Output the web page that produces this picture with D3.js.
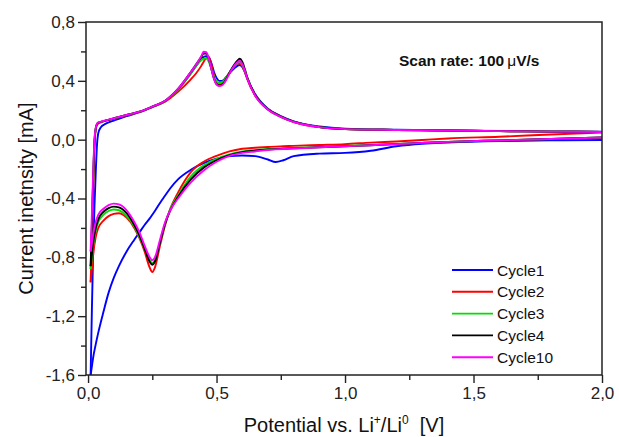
<!DOCTYPE html>
<html><head><meta charset="utf-8">
<script src="https://cdn.jsdelivr.net/npm/d3@7/dist/d3.min.js"></script>
<style>body{margin:0;background:#fff} svg{display:block;font-family:"Liberation Sans",Arial,sans-serif}</style>
</head><body><svg id="c" width="619" height="437"></svg>
<script>
// Potential grids (V)
const anodicV = [0.01,0.015,0.02,0.025,0.03,0.035,0.04,0.05,0.06,0.08,0.1,0.15,0.2,0.25,0.3,0.35,0.4,0.42,0.44,0.45,0.46,0.47,0.48,0.49,0.5,0.51,0.52,0.53,0.54,0.56,0.58,0.59,0.6,0.61,0.62,0.65,0.7,0.75,0.8,0.9,1.0,1.2,1.4,1.6,1.8,2.0];
const cathodicV = [0.01,0.015,0.02,0.03,0.04,0.06,0.08,0.1,0.12,0.15,0.18,0.2,0.22,0.24,0.25,0.26,0.28,0.3,0.32,0.35,0.4,0.45,0.5,0.55,0.6,0.65,0.7,0.73,0.76,0.8,0.9,1.0,1.1,1.2,1.3,1.4,1.6,1.8,2.0];

// Currents (mA), anodic sweep
const cycle1Anodic = [-1.6,-1.15,-0.75,-0.45,-0.22,-0.03,0.045,0.085,0.1,0.118,0.13,0.16,0.187,0.222,0.262,0.34,0.45,0.5,0.545,0.562,0.568,0.56,0.52,0.46,0.42,0.4,0.4,0.41,0.43,0.47,0.5,0.508,0.495,0.46,0.415,0.31,0.21,0.16,0.125,0.09,0.075,0.068,0.063,0.059,0.056,0.054];
const cycle2Anodic = [-0.97,-0.7,-0.35,-0.05,0.07,0.1,0.11,0.118,0.124,0.134,0.143,0.166,0.188,0.222,0.258,0.325,0.41,0.45,0.5,0.53,0.555,0.56,0.51,0.44,0.39,0.375,0.38,0.4,0.43,0.48,0.515,0.52,0.5,0.46,0.41,0.3,0.205,0.155,0.12,0.085,0.072,0.066,0.062,0.058,0.055,0.052];
const cycle3Anodic = [-0.88,-0.6,-0.28,-0.02,0.075,0.105,0.115,0.12,0.126,0.135,0.144,0.167,0.19,0.224,0.263,0.34,0.45,0.5,0.54,0.55,0.552,0.53,0.48,0.43,0.395,0.385,0.39,0.405,0.43,0.48,0.52,0.528,0.51,0.47,0.42,0.305,0.207,0.157,0.122,0.086,0.072,0.066,0.062,0.058,0.055,0.052];
const cycle4Anodic = [-0.86,-0.58,-0.26,-0.01,0.078,0.106,0.116,0.121,0.126,0.135,0.145,0.168,0.19,0.225,0.265,0.345,0.46,0.51,0.56,0.585,0.585,0.55,0.48,0.415,0.378,0.368,0.372,0.39,0.42,0.485,0.535,0.55,0.53,0.48,0.42,0.305,0.207,0.157,0.122,0.086,0.072,0.066,0.062,0.058,0.055,0.052];
const cycle10Anodic = [-0.76,-0.5,-0.22,0.0,0.08,0.108,0.117,0.122,0.127,0.136,0.145,0.168,0.19,0.225,0.265,0.345,0.46,0.51,0.565,0.598,0.595,0.55,0.48,0.415,0.375,0.365,0.368,0.385,0.415,0.48,0.525,0.535,0.515,0.47,0.415,0.3,0.205,0.155,0.12,0.085,0.072,0.066,0.062,0.058,0.055,0.052];

// Currents (mA), cathodic sweep (listed on ascending potential)
const cycle1Cathodic = [-1.6,-1.54,-1.48,-1.39,-1.31,-1.17,-1.04,-0.94,-0.86,-0.76,-0.68,-0.63,-0.58,-0.535,-0.51,-0.485,-0.43,-0.38,-0.33,-0.27,-0.205,-0.16,-0.13,-0.112,-0.108,-0.112,-0.135,-0.152,-0.14,-0.112,-0.095,-0.09,-0.075,-0.045,-0.028,-0.02,-0.01,-0.005,-0.002];
const cycle2Cathodic = [-0.97,-0.88,-0.78,-0.66,-0.6,-0.55,-0.52,-0.505,-0.5,-0.53,-0.6,-0.67,-0.76,-0.87,-0.9,-0.87,-0.72,-0.58,-0.47,-0.36,-0.22,-0.15,-0.11,-0.08,-0.062,-0.055,-0.05,-0.047,-0.045,-0.042,-0.036,-0.03,-0.02,-0.012,-0.002,0.008,0.02,0.035,0.048];
const cycle3Cathodic = [-0.88,-0.8,-0.72,-0.62,-0.56,-0.51,-0.485,-0.475,-0.48,-0.52,-0.59,-0.66,-0.74,-0.82,-0.84,-0.82,-0.7,-0.57,-0.47,-0.38,-0.25,-0.175,-0.13,-0.1,-0.08,-0.07,-0.064,-0.061,-0.059,-0.056,-0.05,-0.043,-0.036,-0.029,-0.022,-0.015,-0.005,0.005,0.015];
const cycle4Cathodic = [-0.86,-0.78,-0.7,-0.6,-0.54,-0.49,-0.465,-0.455,-0.46,-0.5,-0.58,-0.65,-0.74,-0.83,-0.85,-0.83,-0.7,-0.57,-0.48,-0.39,-0.27,-0.19,-0.14,-0.105,-0.085,-0.075,-0.067,-0.064,-0.062,-0.059,-0.052,-0.045,-0.038,-0.03,-0.022,-0.015,-0.005,0.005,0.015];
const cycle10Cathodic = [-0.76,-0.7,-0.64,-0.56,-0.51,-0.47,-0.445,-0.435,-0.44,-0.48,-0.56,-0.63,-0.72,-0.8,-0.82,-0.8,-0.68,-0.56,-0.48,-0.4,-0.29,-0.21,-0.15,-0.11,-0.09,-0.08,-0.07,-0.066,-0.063,-0.06,-0.052,-0.045,-0.038,-0.03,-0.022,-0.015,-0.005,0.005,0.015];

const cycleNames = ["Cycle1","Cycle2","Cycle3","Cycle4","Cycle10"];
const cycleColors = ["#0000ff","#ff0000","#00dd00","#000000","#ff00ff"];
const xTickValues = [0,0.5,1.0,1.5,2.0];
const xMinorTicks = [0.25,0.75,1.25,1.75];
const yTickValues = [-1.6,-1.2,-0.8,-0.4,0.0,0.4,0.8];
const yMinorTicks = [-1.4,-1.0,-0.6,-0.2,0.2,0.6];

const anodicSets = [cycle1Anodic,cycle2Anodic,cycle3Anodic,cycle4Anodic,cycle10Anodic];
const cathodicSets = [cycle1Cathodic,cycle2Cathodic,cycle3Cathodic,cycle4Cathodic,cycle10Cathodic];

const W=619,H=437, L=86, R=602, T=22, B=375;
const svg = d3.select("#c");
const x = d3.scaleLinear().domain([-0.008,2.0]).range([L,R]);
const y = d3.scaleLinear().domain([-1.6,0.8]).range([B,T]);
const fmt = v => v.toFixed(1).replace(".",",");

svg.append("defs").append("clipPath").attr("id","clip")
  .append("rect").attr("x",L).attr("y",T-1).attr("width",R-L).attr("height",B-T+2);

const line = d3.line().x(d=>x(d[0])).y(d=>y(d[1])).curve(d3.curveMonotoneX);
const plot = svg.append("g").attr("clip-path","url(#clip)");
cycleNames.forEach((n,i)=>{
  const a = anodicV.map((v,k)=>[v,anodicSets[i][k]]);
  const c = cathodicV.map((v,k)=>[v,cathodicSets[i][k]]);
  [a,c].forEach(pts=>{
    plot.append("path").attr("d",line(pts)).attr("fill","none")
      .attr("stroke",cycleColors[i]).attr("stroke-width",1.9).attr("stroke-linejoin","round");
  });
});

// axes
const axStyle = g => { g.select(".domain").remove(); g.selectAll("line").attr("stroke","#222").attr("stroke-width",1.4); g.selectAll("text").attr("fill","#222").attr("font-size",17).attr("font-family","'Liberation Sans',Arial,sans-serif"); };
svg.append("g").attr("transform",`translate(0,${B})`)
  .call(d3.axisBottom(x).tickValues(xTickValues).tickFormat(fmt).tickSize(8).tickPadding(4)).call(axStyle);
svg.append("g").attr("transform",`translate(0,${B})`)
  .call(d3.axisBottom(x).tickValues(xMinorTicks).tickFormat("").tickSize(5)).call(axStyle);
svg.append("g").attr("transform",`translate(${L},0)`)
  .call(d3.axisLeft(y).tickValues(yTickValues).tickFormat(fmt).tickSize(8).tickPadding(3)).call(axStyle);
svg.append("g").attr("transform",`translate(${L},0)`)
  .call(d3.axisLeft(y).tickValues(yMinorTicks).tickFormat("").tickSize(5)).call(axStyle);

svg.append("rect").attr("x",L).attr("y",T).attr("width",R-L).attr("height",B-T)
  .attr("fill","none").attr("stroke","#222").attr("stroke-width",1.5);

// axis titles
const xt = svg.append("text").attr("x",(L+R)/2).attr("y",432).attr("text-anchor","middle")
  .attr("font-size",20).attr("fill","#111");
xt.append("tspan").text("Potential vs. Li");
xt.append("tspan").text("+").attr("font-size",12).attr("dy",-8);
xt.append("tspan").text("/Li").attr("dy",8);
xt.append("tspan").text("0").attr("font-size",12).attr("dy",-8);
xt.append("tspan").text("\u00a0\u00a0[V]").attr("dy",8);

svg.append("text").attr("transform",`translate(33,${(T+B)/2}) rotate(-90)`)
  .attr("text-anchor","middle").attr("font-size",20).attr("fill","#111")
  .text("Current inetnsity [mA]");

// annotation
const st = svg.append("text").attr("x",399).attr("y",66).attr("font-size",15.5).attr("font-weight","bold").attr("fill","#111");
st.append("tspan").text("Scan rate: 100\u2009");
st.append("tspan").text("\u03bc").attr("font-weight","normal");
st.append("tspan").text("V/s");

// legend
const lg = svg.append("g");
cycleNames.forEach((n,i)=>{
  const yy = 270 + i*21.8;
  lg.append("line").attr("x1",452).attr("x2",493).attr("y1",yy).attr("y2",yy)
    .attr("stroke",cycleColors[i]).attr("stroke-width",1.9);
  lg.append("text").attr("x",497).attr("y",yy).attr("dy","0.36em").attr("font-size",15.5).attr("fill","#111").text(n);
});
</script></body></html>
